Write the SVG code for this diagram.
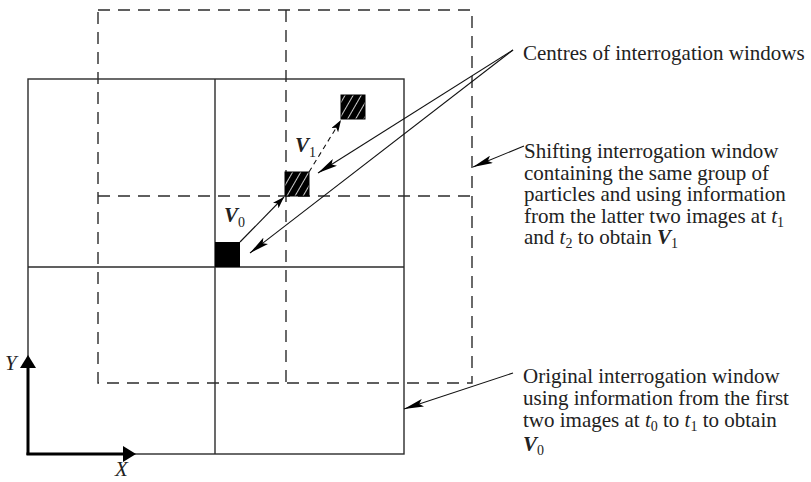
<svg xmlns="http://www.w3.org/2000/svg" width="811" height="482" viewBox="0 0 811 482">
  <style>
    .solid { fill: none; stroke: #2b2b2b; stroke-width: 1.4; }
    .dash { fill: none; stroke: #2b2b2b; stroke-width: 1.4; stroke-dasharray: 12 8; }
    .lead { fill: none; stroke: #111; stroke-width: 1.1; }
    .axis { fill: none; stroke: #000; stroke-width: 3; }
    .lbl { font-family: "Liberation Serif", "Times New Roman", serif; font-size: 21px; fill: #222; }
    .it { font-style: italic; }
    .bi { font-style: italic; font-weight: bold; }
    .sub { font-size: 14px; }
  </style>
  <defs>
    <pattern id="hatch" patternUnits="userSpaceOnUse" width="7" height="7" patternTransform="rotate(30)">
      <rect width="7" height="7" fill="#000"/>
      <line x1="3.5" y1="0" x2="3.5" y2="7" stroke="#fff" stroke-width="0.8"/>
    </pattern>
    <marker id="leadHead" viewBox="0 0 20 8" refX="20" refY="4" markerWidth="20" markerHeight="8" markerUnits="userSpaceOnUse" orient="auto">
      <path d="M0,0 L20,4 L0,8 L4,4 z" fill="#000"/>
    </marker>
    <marker id="vecHead" viewBox="0 0 12 8" refX="12" refY="4" markerWidth="12" markerHeight="8" markerUnits="userSpaceOnUse" orient="auto">
      <path d="M0,0 L12,4 L0,8 L3,4 z" fill="#000"/>
    </marker>
  </defs>

  <!-- original interrogation window (2x2 solid grid) -->
  <g id="original-window">
    <rect class="solid" x="28" y="79" width="376" height="375"/>
    <line class="solid" x1="215" y1="79" x2="215" y2="454"/>
    <line class="solid" x1="28" y1="267" x2="404" y2="267"/>
  </g>

  <!-- shifted interrogation window (2x2 dashed grid) -->
  <g id="shifted-window">
    <rect class="dash" x="98" y="10" width="374" height="373"/>
    <line class="dash" x1="286" y1="10" x2="286" y2="383"/>
    <line class="dash" x1="98" y1="196" x2="472" y2="196"/>
  </g>

  <!-- window centres -->
  <g id="centre-t0">
    <rect x="215" y="242" width="25" height="25" fill="#000"/>
  </g>
  <g id="centre-t1">
    <rect x="285" y="172" width="24" height="24" fill="url(#hatch)" stroke="#000" stroke-width="1"/>
  </g>
  <g id="centre-t2">
    <rect x="341" y="95" width="24" height="24" fill="url(#hatch)" stroke="#000" stroke-width="1"/>
  </g>

  <!-- coordinate axes -->
  <g id="axes">
    <line class="axis" x1="28" y1="455" x2="28" y2="366"/>
    <line class="axis" x1="26.5" y1="454" x2="124" y2="454"/>
    <polygon points="28,355 36,368 20,368" fill="#000"/>
    <polygon points="136,454 123,446 123,462" fill="#000"/>
    <text class="lbl it" x="5" y="370" font-size="19">Y</text>
    <text class="lbl it" x="115" y="476" font-size="19">X</text>
  </g>

  <!-- connectors: displacement vectors and label leaders -->
  <g id="connectors">
    <line x1="240" y1="242" x2="284" y2="197" stroke="#111" stroke-width="1.1" marker-end="url(#vecHead)"/>
    <line x1="309" y1="172" x2="341" y2="120" stroke="#111" stroke-width="1.1" stroke-dasharray="5 4" marker-end="url(#vecHead)"/>
    <line class="lead" x1="513" y1="50" x2="318" y2="173" marker-end="url(#leadHead)"/>
    <line class="lead" x1="513" y1="50" x2="250" y2="253" marker-end="url(#leadHead)"/>
    <line class="lead" x1="524" y1="146" x2="473" y2="167" marker-end="url(#leadHead)"/>
    <line class="lead" x1="513" y1="373" x2="404" y2="409" marker-end="url(#leadHead)"/>
  </g>

  <!-- vector labels -->
  <g id="label-v0">
    <text class="lbl" x="224" y="222"><tspan class="bi">V</tspan><tspan class="sub" dy="5">0</tspan></text>
  </g>
  <g id="label-v1">
    <text class="lbl" x="295" y="152"><tspan class="bi">V</tspan><tspan class="sub" dy="5">1</tspan></text>
  </g>

  <!-- annotation texts -->
  <g id="note-centres">
    <text class="lbl" x="523" y="60">Centres of interrogation windows</text>
  </g>
  <g id="note-shifting">
    <text class="lbl" x="524" y="158">Shifting interrogation window</text>
    <text class="lbl" x="524" y="179.5">containing the same group of</text>
    <text class="lbl" x="524" y="201">particles and using information</text>
    <text class="lbl" x="524" y="222.5">from the latter two images at <tspan class="it">t</tspan><tspan class="sub" dy="4">1</tspan></text>
    <text class="lbl" x="524" y="244">and <tspan class="it">t</tspan><tspan class="sub" dy="4">2</tspan><tspan dy="-4"> to obtain </tspan><tspan class="bi">V</tspan><tspan class="sub" dy="4">1</tspan></text>
  </g>
  <g id="note-original">
    <text class="lbl" x="523" y="383">Original interrogation window</text>
    <text class="lbl" x="523" y="405">using information from the first</text>
    <text class="lbl" x="523" y="427">two images at <tspan class="it">t</tspan><tspan class="sub" dy="4">0</tspan><tspan dy="-4"> to </tspan><tspan class="it">t</tspan><tspan class="sub" dy="4">1</tspan><tspan dy="-4"> to obtain</tspan></text>
    <text class="lbl" x="523" y="451"><tspan class="bi">V</tspan><tspan class="sub" dy="4">0</tspan></text>
  </g>
</svg>
